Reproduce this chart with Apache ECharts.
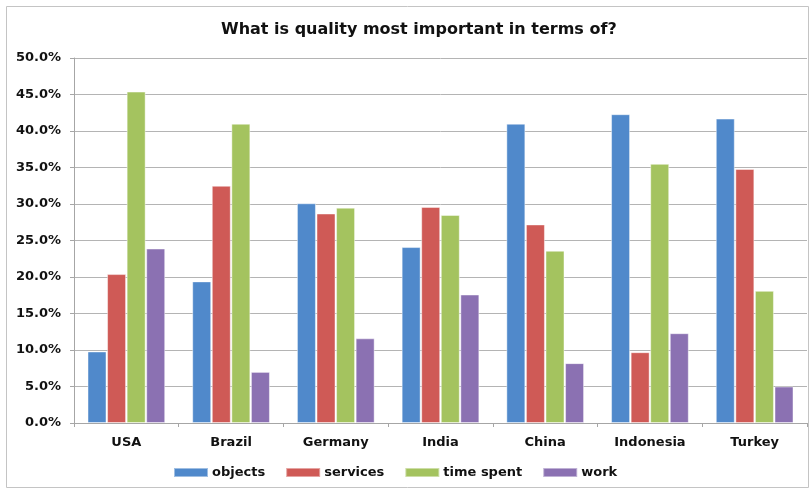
<!DOCTYPE html>
<html>
<head>
<meta charset="utf-8">
<script src="https://cdn.jsdelivr.net/npm/echarts@6/dist/echarts.min.js"></script>
<style>
  html, body { margin: 0; padding: 0; background: #ffffff; }
  #chart { width: 811px; height: 490px; }
</style>
</head>
<body>
<div id="chart"></div>
<script>
// Survey results: share of answers per country (percent)
const countries = ['USA', 'Brazil', 'Germany', 'India', 'China', 'Indonesia', 'Turkey'];
const objects   = [9.8, 19.4, 30.1, 24.1, 41.0, 42.3, 41.7];
const services  = [20.4, 32.5, 28.7, 29.6, 27.2, 9.7, 34.8];
const timeSpent = [45.4, 41.0, 29.5, 28.5, 23.6, 35.5, 18.1];
const work      = [23.9, 7.0, 11.6, 17.6, 8.2, 12.3, 5.0];
const seriesNames = ['objects', 'services', 'time spent', 'work'];
const yTicks = { min: 0, max: 50, step: 5 };

const colors = ['#5089cb', '#cf5a56', '#a4c35f', '#8b71b2'];
const labelFont = 'DejaVu Sans';

function barSeries(name, data, color) {
  return {
    name: name,
    type: 'bar',
    data: data,
    barWidth: 19,
    barGap: '3%',
    itemStyle: {
      color: color,
      borderColor: 'rgba(255,255,255,0.45)',
      borderWidth: 1
    }
  };
}

const chart = echarts.init(document.getElementById('chart'), null, { renderer: 'canvas' });
chart.setOption({
  animation: false,
  backgroundColor: '#ffffff',
  color: colors,
  graphic: [{
    type: 'rect',
    shape: { x: 6.5, y: 6.5, width: 802, height: 481 },
    style: { fill: 'none', stroke: '#c4c4c4', lineWidth: 1 },
    silent: true,
    z: -1
  }],
  title: {
    text: 'What is quality most important in terms of?',
    left: 216,
    top: 17,
    textStyle: { fontFamily: labelFont, fontWeight: 'bold', fontSize: 16, color: '#111111' }
  },
  legend: {
    data: seriesNames,
    left: 173,
    top: 466,
    padding: 0,
    itemWidth: 34,
    itemHeight: 9,
    itemGap: 20,
    icon: 'rect',
    textStyle: { fontFamily: labelFont, fontWeight: 'bold', fontSize: 13, color: '#111111', padding: [0, 0, 0, -1] }
  },
  grid: { left: 74, right: 4, top: 58, bottom: 67, containLabel: false },
  xAxis: {
    type: 'category',
    data: countries,
    axisLine: { lineStyle: { color: '#a6a6a6', width: 1 } },
    axisTick: { show: true, length: 4, lineStyle: { color: '#a6a6a6' } },
    axisLabel: {
      margin: 13,
      fontFamily: labelFont, fontWeight: 'bold', fontSize: 13, color: '#111111'
    }
  },
  yAxis: {
    type: 'value',
    min: yTicks.min,
    max: yTicks.max,
    interval: yTicks.step,
    axisLine: { show: true, lineStyle: { color: '#a6a6a6' } },
    axisTick: { show: true, inside: false, length: 4, lineStyle: { color: '#a6a6a6' } },
    splitLine: { lineStyle: { color: '#b4b4b4', width: 1 } },
    axisLabel: {
      margin: 13,
      formatter: v => v.toFixed(1) + '%',
      fontFamily: labelFont, fontWeight: 'bold', fontSize: 13, color: '#111111'
    }
  },
  series: [
    barSeries(seriesNames[0], objects, colors[0]),
    barSeries(seriesNames[1], services, colors[1]),
    barSeries(seriesNames[2], timeSpent, colors[2]),
    barSeries(seriesNames[3], work, colors[3])
  ]
});
</script>
</body>
</html>
